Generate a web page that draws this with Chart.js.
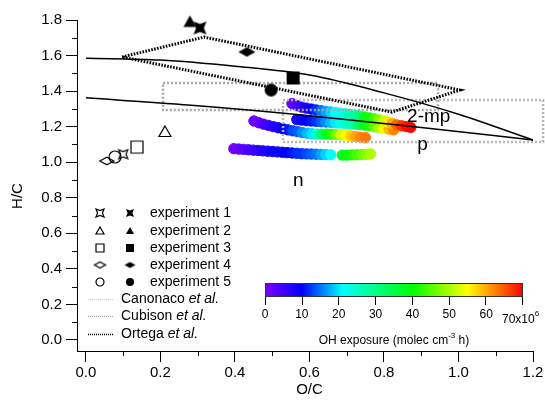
<!DOCTYPE html>
<html>
<head>
<meta charset="utf-8">
<script src="https://cdn.jsdelivr.net/npm/chart.js@4.4.1/dist/chart.umd.min.js"></script>
<style>
  body { margin: 0; background: #fff; }
  canvas { display: block; }
</style>
</head>
<body>
<canvas id="myChart" width="545" height="410"></canvas>
<script>
// ---- axis ticks ----
const xTickValues = [0, 0.1, 0.2, 0.3, 0.4, 0.5, 0.6, 0.7, 0.8, 0.9, 1.0, 1.1, 1.2];
const xTickLabels = ['0.0', '', '0.2', '', '0.4', '', '0.6', '', '0.8', '', '1.0', '', '1.2'];
const yTickValues = [0, 0.1, 0.2, 0.3, 0.4, 0.5, 0.6, 0.7, 0.8, 0.9, 1.0, 1.1, 1.2, 1.3, 1.4, 1.5, 1.6, 1.7, 1.8];
const yTickLabels = ['0.0', '', '0.2', '', '0.4', '', '0.6', '', '0.8', '', '1.0', '', '1.2', '', '1.4', '', '1.6', '', '1.8'];
const xTitle = 'O/C';
const yTitle = 'H/C';

// ---- solid reference curves ----
const upperLineX = [0, 0.2, 0.4, 0.6, 0.8, 1.0, 1.2];
const upperLineY = [1.585, 1.575, 1.54, 1.49, 1.39, 1.27, 1.125];
const lowerLineX = [0, 0.3, 0.6, 0.9, 1.2];
const lowerLineY = [1.362, 1.318, 1.262, 1.195, 1.125];

// ---- literature regions ----
const ortegaX = [0.097, 0.317, 1.004, 0.821, 0.097];
const ortegaY = [1.592, 1.704, 1.406, 1.282, 1.592];
const cubisonX = [0.207, 0.945, 0.945, 0.207, 0.207];
const cubisonY = [1.445, 1.445, 1.294, 1.294, 1.445];
const canonacoX = [0.529, 1.227, 1.227, 0.529, 0.529];
const canonacoY = [1.35, 1.35, 1.114, 1.114, 1.35];

// ---- experiments (open = start, filled = end) ----
const expNames = ['experiment 1', 'experiment 2', 'experiment 3', 'experiment 4', 'experiment 5'];
const expShapes = ['star', 'triangle', 'square', 'diamond', 'circle'];
const openX = [0.100, 0.212, 0.137, 0.056, 0.078];
const openY = [1.045, 1.170, 1.085, 1.007, 1.030];
const filledX = [0.306, 0.279, 0.556, 0.432, 0.497];
const filledY = [1.755, 1.789, 1.474, 1.620, 1.406];

// ---- colour-coded bands (O/C, H/C, OH exposure x10^6) ----
const bandAx = [0.553, 0.566, 0.579, 0.592, 0.605, 0.618, 0.631, 0.644, 0.657, 0.670, 0.683, 0.696, 0.709, 0.722, 0.735, 0.748, 0.761, 0.774, 0.787, 0.800, 0.811, 0.822, 0.834, 0.847, 0.860, 0.872];
const bandAy = [1.330, 1.318, 1.310, 1.304, 1.299, 1.294, 1.290, 1.286, 1.283, 1.280, 1.276, 1.272, 1.268, 1.264, 1.260, 1.254, 1.249, 1.244, 1.238, 1.232, 1.226, 1.218, 1.210, 1.205, 1.200, 1.196];
const bandAoh = [2, 4, 6, 8, 10, 12, 15, 17, 19, 21, 22, 24, 26, 28, 31, 38, 41, 44, 48, 52, 56, 60, 64, 67, 69, 70];

const bandBx = [0.566, 0.579, 0.592, 0.605, 0.618, 0.631, 0.644, 0.657, 0.670, 0.683, 0.696, 0.709, 0.722, 0.735, 0.748, 0.761, 0.774, 0.787, 0.800, 0.813, 0.826];
const bandBy = [1.240, 1.237, 1.234, 1.232, 1.230, 1.228, 1.226, 1.224, 1.222, 1.220, 1.218, 1.216, 1.214, 1.212, 1.209, 1.205, 1.200, 1.195, 1.190, 1.186, 1.182];
const bandBoh = [8, 9, 10, 11, 12, 14, 16, 18, 20, 22, 24, 26, 28, 34, 38, 42, 46, 50, 55, 59, 62];

const bandCx = [0.451, 0.464, 0.477, 0.490, 0.503, 0.516, 0.529, 0.542, 0.555, 0.568, 0.581, 0.594, 0.607, 0.620, 0.633, 0.646, 0.659, 0.672, 0.685, 0.698, 0.711, 0.724, 0.737, 0.750];
const bandCy = [1.232, 1.222, 1.214, 1.207, 1.200, 1.194, 1.188, 1.182, 1.177, 1.172, 1.167, 1.163, 1.160, 1.158, 1.158, 1.158, 1.157, 1.156, 1.154, 1.151, 1.148, 1.145, 1.141, 1.138];
const bandCoh = [1, 2, 4, 5, 7, 8, 10, 11, 13, 14, 16, 18, 20, 24, 32, 38, 42, 47, 52, 55, 58, 60, 62, 63];

const bandDx = [0.397, 0.410, 0.423, 0.436, 0.449, 0.462, 0.475, 0.488, 0.501, 0.514, 0.527, 0.540, 0.553, 0.566, 0.579, 0.592, 0.605, 0.618, 0.631, 0.644, 0.657, 0.688, 0.701, 0.714, 0.727, 0.740, 0.753, 0.764];
const bandDy = [1.076, 1.074, 1.072, 1.070, 1.068, 1.066, 1.064, 1.062, 1.060, 1.058, 1.056, 1.054, 1.052, 1.050, 1.048, 1.047, 1.046, 1.045, 1.044, 1.043, 1.042, 1.040, 1.040, 1.041, 1.042, 1.043, 1.045, 1.047];
const bandDoh = [1, 2, 3, 4, 5, 6, 7, 8, 9, 9, 10, 10, 11, 12, 12, 13, 14, 15, 17, 19, 21, 37, 39, 42, 44, 46, 48, 50];

// ---- colour bar ----
const cbTickValues = [0, 10, 20, 30, 40, 50, 60, 70];
const cbTickLabels = ['0', '10', '20', '30', '40', '50', '60', '70x10'];
const cbMax = 70;
const cmapStops = [[0, [125, 0, 255]], [0.143, [0, 0, 255]], [0.3, [0, 255, 255]], [0.571, [0, 255, 0]], [0.786, [255, 255, 0]], [1, [255, 0, 0]]];

// ---- text annotations ----
const noteText = ['2-mp', 'p', 'n'];
const noteX = [0.862, 0.889, 0.556];
const noteY = [1.226, 1.069, 0.866];

const FONT = '"Liberation Sans", Arial, Helvetica, sans-serif';

function ohColor(v) {
  let t = Math.max(0, Math.min(1, v / cbMax));
  for (let i = 1; i < cmapStops.length; i++) {
    if (t <= cmapStops[i][0]) {
      const a = cmapStops[i - 1], b = cmapStops[i];
      const f = (t - a[0]) / (b[0] - a[0]);
      const c = a[1].map((q, k) => Math.round(q + (b[1][k] - q) * f));
      return 'rgb(' + c.join(',') + ')';
    }
  }
  return 'rgb(255,0,0)';
}

function makeMarker(shape, filled, size) {
  const pad = 2;
  const c = document.createElement('canvas');
  c.width = size + pad * 2;
  c.height = size + pad * 2;
  const g = c.getContext('2d');
  const h = size / 2;
  g.translate(c.width / 2, c.height / 2);
  g.beginPath();
  if (shape === 'circle') {
    g.arc(0, 0, h, 0, Math.PI * 2);
  } else if (shape === 'square') {
    g.rect(-h, -h, size, size);
  } else if (shape === 'triangle') {
    g.moveTo(0, -h); g.lineTo(h, h * 0.75); g.lineTo(-h, h * 0.75);
  } else if (shape === 'diamond') {
    g.moveTo(-h, 0); g.lineTo(0, -h * 0.55); g.lineTo(h, 0); g.lineTo(0, h * 0.55);
  } else {
    const k = h * 0.6;
    g.moveTo(-h, -h); g.lineTo(0, -k); g.lineTo(h, -h); g.lineTo(k, 0);
    g.lineTo(h, h); g.lineTo(0, k); g.lineTo(-h, h); g.lineTo(-k, 0);
  }
  g.closePath();
  if (filled) {
    g.fillStyle = '#000';
    g.fill();
  } else {
    g.strokeStyle = '#000';
    g.lineWidth = 1.2;
    g.stroke();
  }
  return c;
}

function pts(xs, ys) {
  return xs.map((x, i) => ({ x: x, y: ys[i] }));
}

const datasets = [];

// lines on top of the bands
datasets.push({
  data: pts(upperLineX, upperLineY), showLine: true, pointRadius: 0,
  borderColor: '#000', borderWidth: 1.5, cubicInterpolationMode: 'monotone', order: 2
});
datasets.push({
  data: pts(lowerLineX, lowerLineY), showLine: true, pointRadius: 0,
  borderColor: '#000', borderWidth: 1.5, cubicInterpolationMode: 'monotone', order: 2
});
datasets.push({
  data: pts(ortegaX, ortegaY), showLine: true, pointRadius: 0,
  borderColor: '#000', borderWidth: 3, borderDash: [1.6, 1.4], order: 2
});
datasets.push({
  data: pts(cubisonX, cubisonY), showLine: true, pointRadius: 0,
  borderColor: '#a6a6a6', borderWidth: 2.5, borderDash: [2, 2], order: 3
});
datasets.push({
  data: pts(canonacoX, canonacoY), showLine: true, pointRadius: 0,
  borderColor: '#b8b8b8', borderWidth: 2.5, borderDash: [2, 2], order: 3, clip: false
});

[[bandAx, bandAy, bandAoh], [bandBx, bandBy, bandBoh], [bandCx, bandCy, bandCoh], [bandDx, bandDy, bandDoh]].forEach(b => {
  const cols = b[2].map(ohColor);
  datasets.push({
    data: pts(b[0], b[1]), showLine: false, pointRadius: 5.2, pointBorderWidth: 1,
    pointBackgroundColor: cols, pointBorderColor: cols, order: 5
  });
});

for (let i = 0; i < expNames.length; i++) {
  const s = expShapes[i];
  datasets.push({
    data: [{ x: openX[i], y: openY[i] }], pointRadius: 6, clip: false,
    pointStyle: makeMarker(s, false, s === 'diamond' ? 14 : (s === 'star' ? 9 : 12)), order: 1
  });
  datasets.push({
    data: [{ x: filledX[i], y: filledY[i] }], pointRadius: 6, clip: false,
    pointStyle: makeMarker(s, true, s === 'diamond' ? 17 : 13), order: 0
  });
}

const legendOpen = expShapes.map(s => makeMarker(s, false, s === 'diamond' ? 11 : 8));
const legendFilled = expShapes.map(s => makeMarker(s, true, s === 'diamond' ? 11 : 8));

const decor = {
  id: 'decor',
  afterDraw(chart) {
    const ctx = chart.ctx;
    const xs = chart.scales.x, ys = chart.scales.y;
    ctx.save();

    // minor ticks
    ctx.strokeStyle = '#000';
    ctx.lineWidth = 1;
    ctx.beginPath();
    xTickValues.forEach((v, i) => {
      if (xTickLabels[i] !== '') return;
      const px = Math.round(xs.getPixelForValue(v)) + 0.5;
      ctx.moveTo(px, xs.top); ctx.lineTo(px, xs.top + 5);
    });
    yTickValues.forEach((v, i) => {
      if (yTickLabels[i] !== '') return;
      const py = Math.round(ys.getPixelForValue(v)) + 0.5;
      ctx.moveTo(ys.right, py); ctx.lineTo(ys.right - 5, py);
    });
    ctx.stroke();

    // axis titles, centred on the 0..max span of each axis
    ctx.fillStyle = '#000';
    ctx.font = '15px ' + FONT;
    ctx.textAlign = 'center';
    ctx.textBaseline = 'middle';
    const xMid = (xs.getPixelForValue(0) + xs.getPixelForValue(1.2)) / 2;
    ctx.fillText(xTitle, xMid, 390);
    ctx.save();
    ctx.translate(18, 196);
    ctx.rotate(-Math.PI / 2);
    ctx.fillText(yTitle, 0, 0);
    ctx.restore();

    // annotations
    ctx.font = '19px ' + FONT;
    ctx.textAlign = 'left';
    ctx.textBaseline = 'alphabetic';
    noteText.forEach((t, i) => {
      ctx.fillText(t, xs.getPixelForValue(noteX[i]), ys.getPixelForValue(noteY[i]));
    });

    // legend
    const rowY = [213, 231, 248, 265, 282];
    ctx.font = '14px ' + FONT;
    ctx.textBaseline = 'middle';
    expNames.forEach((n, i) => {
      const a = legendOpen[i], b = legendFilled[i];
      ctx.drawImage(a, 100 - a.width / 2, rowY[i] - a.height / 2);
      ctx.drawImage(b, 130 - b.width / 2, rowY[i] - b.height / 2);
      ctx.fillText(n, 150, rowY[i]);
    });
    const refNames = ['Canonaco', 'Cubison', 'Ortega'];
    const refColors = ['#c8c8c8', '#9a9a9a', '#000'];
    const refY = [299, 316, 334];
    refNames.forEach((n, i) => {
      ctx.beginPath();
      ctx.setLineDash([1, 1]);
      ctx.strokeStyle = refColors[i];
      ctx.lineWidth = i === 2 ? 1.5 : 1;
      ctx.moveTo(88, refY[i] + 0.5); ctx.lineTo(114, refY[i] + 0.5);
      ctx.stroke();
      ctx.setLineDash([]);
      ctx.font = '14px ' + FONT;
      ctx.fillText(n + ' ', 121, refY[i]);
      const w = ctx.measureText(n + ' ').width;
      ctx.font = 'italic 14px ' + FONT;
      ctx.fillText('et al.', 121 + w, refY[i]);
    });

    // colour bar
    const x0 = 265, x1 = 523, y0 = 283, y1 = 297;
    const grad = ctx.createLinearGradient(x0, 0, x1, 0);
    cmapStops.forEach(s => grad.addColorStop(s[0], 'rgb(' + s[1].join(',') + ')'));
    ctx.fillStyle = grad;
    ctx.fillRect(x0, y0, x1 - x0, y1 - y0);
    ctx.strokeStyle = '#333';
    ctx.lineWidth = 1;
    ctx.strokeRect(x0 + 0.5, y0 + 0.5, x1 - x0 - 1, y1 - y0 - 1);
    ctx.beginPath();
    ctx.strokeStyle = '#000';
    cbTickValues.forEach(v => {
      const px = Math.round(x0 + (v / cbMax) * (x1 - x0 - 1)) + 0.5;
      ctx.moveTo(px, y1); ctx.lineTo(px, y1 + 8);
    });
    ctx.stroke();
    ctx.fillStyle = '#000';
    ctx.font = '12px ' + FONT;
    ctx.textAlign = 'center';
    cbTickValues.forEach((v, i) => {
      const px = x0 + (v / cbMax) * (x1 - x0);
      if (i < cbTickValues.length - 1) {
        ctx.fillText(cbTickLabels[i], px, 315);
      } else {
        ctx.textAlign = 'left';
        ctx.fillText(cbTickLabels[i], 502, 320);
        const w = ctx.measureText(cbTickLabels[i]).width;
        ctx.font = '8px ' + FONT;
        ctx.fillText('6', 502 + w, 314);
      }
    });
    // colour bar title
    ctx.font = '12px ' + FONT;
    const p1 = 'OH exposure (molec cm', p3 = ' h)';
    const w1 = ctx.measureText(p1).width, w3 = ctx.measureText(p3).width;
    ctx.font = '8px ' + FONT;
    const w2 = ctx.measureText('-3').width;
    const tx = (x0 + x1) / 2 - (w1 + w2 + w3) / 2;
    ctx.textAlign = 'left';
    ctx.font = '12px ' + FONT;
    ctx.fillText(p1, tx, 341);
    ctx.font = '8px ' + FONT;
    ctx.fillText('-3', tx + w1, 336);
    ctx.font = '12px ' + FONT;
    ctx.fillText(p3, tx + w1 + w2, 341);

    ctx.restore();
  }
};

const ctx = document.getElementById('myChart').getContext('2d');
const myChart = new Chart(ctx, {
  type: 'scatter',
  data: { datasets: datasets },
  options: {
    responsive: false,
    animation: false,
    devicePixelRatio: 1,
    layout: { padding: { top: 20, right: 12, left: 0, bottom: 0 } },
    plugins: { legend: { display: false }, tooltip: { enabled: false } },
    scales: {
      x: {
        type: 'linear', min: -0.024, max: 1.2,
        afterBuildTicks: s => { s.ticks = xTickValues.map(v => ({ value: v })); },
        afterFit: s => { s.height = 59; s.paddingLeft = 0; s.paddingRight = 0; },
        ticks: {
          autoSkip: false, maxRotation: 0, padding: 2, color: '#000',
          font: { family: FONT, size: 15 },
          callback: (v, i) => xTickLabels[i]
        },
        grid: {
          drawOnChartArea: false, drawTicks: true, tickLength: 11,
          tickColor: c => (xTickLabels[c.index] ? '#000' : 'rgba(0,0,0,0)')
        },
        border: { color: '#000', width: 1 }
      },
      y: {
        type: 'linear', min: -0.062, max: 1.8,
        afterBuildTicks: s => { s.ticks = yTickValues.map(v => ({ value: v })); },
        afterFit: s => { s.width = 77; s.paddingTop = 0; s.paddingBottom = 0; },
        ticks: {
          autoSkip: false, padding: 4, color: '#000',
          font: { family: FONT, size: 15 },
          callback: (v, i) => yTickLabels[i]
        },
        grid: {
          drawOnChartArea: false, drawTicks: true, tickLength: 11,
          tickColor: c => (yTickLabels[c.index] ? '#000' : 'rgba(0,0,0,0)')
        },
        border: { color: '#000', width: 1 }
      }
    }
  },
  plugins: [decor]
});
</script>
</body>
</html>
